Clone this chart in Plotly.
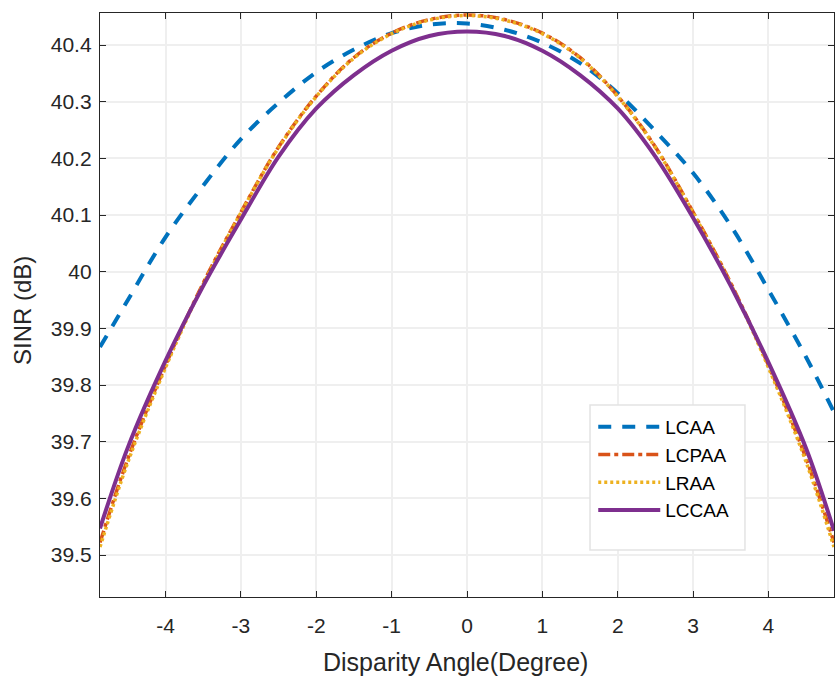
import plotly.graph_objects as go

angle = [-4.87, -4.5, -4.0, -3.5, -3.0, -2.5, -2.0, -1.5, -1.0, -0.5, 0.0,
         0.5, 1.0, 1.5, 2.0, 2.5, 3.0, 3.5, 4.0, 4.5, 4.87]

lcaa = [39.867, 39.950, 40.061, 40.152, 40.234, 40.298, 40.352, 40.392, 40.421, 40.436, 40.438,
        40.427, 40.404, 40.368, 40.315, 40.248, 40.174, 40.081, 39.968, 39.849, 39.752]
lcpaa = [39.522, 39.670, 39.835, 39.980, 40.105, 40.220, 40.310, 40.378, 40.421, 40.445, 40.453,
         40.445, 40.421, 40.378, 40.310, 40.220, 40.105, 39.980, 39.835, 39.670, 39.522]
lraa = [39.514, 39.664, 39.831, 39.978, 40.104, 40.219, 40.309, 40.377, 40.420, 40.444, 40.452,
        40.444, 40.420, 40.377, 40.309, 40.219, 40.104, 39.978, 39.831, 39.664, 39.514]
lccaa = [39.547, 39.690, 39.843, 39.975, 40.092, 40.203, 40.288, 40.347, 40.390, 40.416, 40.424,
         40.416, 40.390, 40.347, 40.288, 40.203, 40.095, 39.975, 39.840, 39.688, 39.543]

x_ticks = [-4, -3, -2, -1, 0, 1, 2, 3, 4]
x_tick_text = ["-4", "-3", "-2", "-1", "0", "1", "2", "3", "4"]
y_ticks = [39.5, 39.6, 39.7, 39.8, 39.9, 40.0, 40.1, 40.2, 40.3, 40.4]
y_tick_text = ["39.5", "39.6", "39.7", "39.8", "39.9", "40", "40.1", "40.2", "40.3", "40.4"]

FONT = "Liberation Sans, Arial, sans-serif"
INK = "#262626"

fig = go.Figure()
fig.add_trace(go.Scatter(x=angle, y=lcaa, name="LCAA", mode="lines", line_shape="spline",
                         line=dict(color="#0072BD", width=4, dash="13px,11px")))
fig.add_trace(go.Scatter(x=angle, y=lcpaa, name="LCPAA", mode="lines", line_shape="spline",
                         line=dict(color="#D95319", width=3.5, dash="12px,4px,4px,4px")))
fig.add_trace(go.Scatter(x=angle, y=lraa, name="LRAA", mode="lines", line_shape="spline",
                         line=dict(color="#EDB120", width=3.5, dash="3px,3px")))
fig.add_trace(go.Scatter(x=angle, y=lccaa, name="LCCAA", mode="lines", line_shape="spline",
                         line=dict(color="#7E2F8E", width=4)))

# legend box
fig.add_shape(type="rect", xref="paper", yref="paper", x0=0.6676, x1=0.8787, y0=0.0805, y1=0.3288,
              line=dict(color="#e3e3e3", width=1.5), fillcolor="white", layer="above")

axis_common = dict(showline=True, linecolor=INK, linewidth=1.3, mirror="ticks",
                   ticks="inside", ticklen=6, tickwidth=1.3, tickcolor=INK,
                   showgrid=True, gridcolor="#efefef", gridwidth=2, zeroline=False,
                   tickfont=dict(family=FONT, size=21, color=INK))

fig.update_layout(
    width=835, height=678,
    margin=dict(l=100, r=1, t=13, b=81),
    paper_bgcolor="white", plot_bgcolor="white",
    xaxis=dict(range=[-4.87, 4.87], tickvals=x_ticks, ticktext=x_tick_text,
               ticklabelstandoff=10, **axis_common),
    yaxis=dict(range=[39.4259, 40.4565], tickvals=y_ticks, ticktext=y_tick_text,
               ticklabelstandoff=3, **axis_common),
    legend=dict(x=0.672, y=0.3236, xanchor="left", yanchor="top", bgcolor="rgba(0,0,0,0)",
                borderwidth=0, font=dict(family=FONT, size=19, color="black"),
                itemwidth=62, tracegroupgap=0),
    showlegend=True,
    annotations=[
        dict(text="Disparity Angle(Degree)", xref="paper", yref="paper", x=0.4837, y=-0.1113,
             xanchor="center", yanchor="middle", showarrow=False,
             font=dict(family=FONT, size=25, color=INK)),
        dict(text="SINR (dB)", xref="paper", yref="paper", x=-0.1063, y=0.4914,
             xanchor="center", yanchor="middle", showarrow=False, textangle=-90,
             font=dict(family=FONT, size=24, color=INK)),
    ],
)

fig.write_html("out.html")
